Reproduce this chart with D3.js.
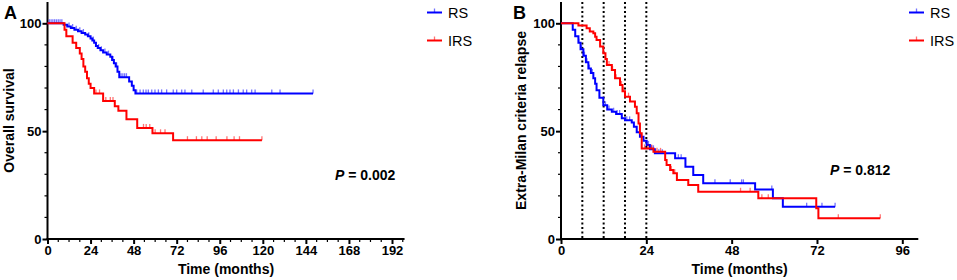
<!DOCTYPE html>
<html>
<head>
<meta charset="utf-8">
<script src="https://cdn.jsdelivr.net/npm/d3@7"></script>
<style>
  body { margin: 0; background: #fff; }
  svg { display: block; }
</style>
</head>
<body>
<div id="chart-area"></div>
<script>
// ---- data (months, % without event) ----
const seriesNames = ["RS", "IRS"];
const seriesColors = ["#0000ff", "#ff0000"];

// Panel A: overall survival
const stepsA_RS = [[0,100],[9,99.3],[11,98.5],[13,97.8],[15,97],[17,96.3],[19,95.5],[21,94.8],[22.5,94],[24,93],[25,92],[26,91],[27,89.5],[28,88.5],[29.5,87.5],[31,86.5],[33,85.5],[35,84.5],[36,83],[37,81.5],[38,80],[39,77.5],[40,75],[45.5,73],[47,71],[48,69],[49,67.5]];
const endA_RS = 148;
const censorA_RS = [1,2,3,4,5,6,7,8,12,14,16,18,20,23,25.5,28.5,30,32,34,36.5,38.5,41,42,43,44,49.7,51.6,53.4,54.9,56.2,58.1,59.9,61.8,63.6,66.4,70.1,72,74.8,76.6,80.4,86.8,92.4,95.2,98,99.9,101.7,103.6,106.4,109.1,111,113.8,115.7,125,129.6,148];

const stepsA_IRS = [[0,100],[9.5,97],[10.5,94],[14,91],[16,88.5],[18,86],[19,83.5],[20,80],[21,77.5],[22,74.5],[23,72],[24,70],[26,67.5],[31,64],[37.5,61.5],[39.5,59.5],[44,55.5],[50,51.5],[58.5,49],[70,45.8]];
const endA_IRS = 119.5;
const censorA_IRS = [27,29,32.5,35,36.5,53.5,55,57,60,63,65.5,78,83,86,89,94,100,104,107,119.5];

// Panel B: extra-Milan criteria relapse
const stepsB_RS = [[0,100],[3.3,97],[4,94],[4.9,91],[5.5,88],[6.3,85],[7,82],[7.7,79],[8.4,77],[9.1,74.5],[9.6,72],[10,69],[10.8,65.5],[11.9,62],[13,60],[14.3,59],[15.5,58],[17.1,56],[18,55],[19.9,54],[20.5,52],[21.3,49.5],[22.2,47.4],[23.2,45.5],[24.1,43.6],[25,41.6],[26.4,39.7],[32.1,37.4],[35,33.5],[37.2,29.7],[40,25.8],[54.6,23],[59.6,18.9],[62.4,15]];
const endB_RS = 77.1;
const censorB_RS = [5,5.8,6.6,7.3,8,8.8,12.5,13.5,14.8,15.8,16.5,18.5,19.3,24.6,25.5,26,27.5,28.5,33,33.8,43.3,47.6,50.8,51.3,59.3,69.1,73.4,77.1];

const stepsB_IRS = [[0,100],[4.9,99],[7.2,97.7],[8.1,96.2],[9.1,95.4],[9.6,93.8],[10,92.3],[11,89.2],[11.9,86.1],[12.5,83.5],[12.9,80.7],[14.3,78.4],[15.2,74.5],[16.6,71.4],[17.3,68.5],[18,66],[19.4,63.7],[20.8,61.3],[21.3,58.3],[21.8,53.6],[22.2,49],[22.7,42],[26,40.4],[29.3,36.6],[29.7,34.3],[30.7,32],[31.6,30.5],[32.6,27.4],[35.8,25],[38.6,21.9],[55.5,18.9],[71.8,14.2],[72.4,9.6]];
const endB_IRS = 89.8;
const censorB_IRS = [13.5,14.5,15.5,17,17.6,19,23.5,24.5,25.5,27,28,31,32,50.5,53.2,56.5,58.3,78,89.8];

const ticksA = [0,24,48,72,96,120,144,168,192];
const ticksB = [0,24,48,72,96];
const ticksY = [0,50,100];
const cutoffsB = [6,12,18,24];

// ---- layout ----
const width = 957;
const height = 280;
const font = 'Arial, "Liberation Sans", sans-serif';

const svg = d3.select('#chart-area')
    .append('svg')
    .attr('width', width)
    .attr('height', height);

const y = d3.scaleLinear().domain([0, 100]).range([239, 23.3]);

function valueAt(steps, t) {
    let v = steps[0][1];
    steps.forEach(s => { if (s[0] <= t) v = s[1]; });
    return v;
}

function drawPanel(p) {
    const x = d3.scaleLinear().domain([0, p.xMax]).range(p.xRange);
    const g = svg.append('g');
    const x0 = x(0);

    // dotted cut-off lines
    g.selectAll('.cut')
        .data(p.cutoffs || [])
        .enter()
        .append('line')
        .attr('x1', d => x(d)).attr('x2', d => x(d))
        .attr('y1', 2).attr('y2', y(0))
        .attr('stroke', '#000')
        .attr('stroke-width', 2)
        .attr('stroke-dasharray', '2,2.5');

    // minor ticks
    if (p.minorX) {
        g.selectAll('.mx')
            .data(d3.range(0, p.axisEnd + 0.01, p.minorX).filter(d => d % 24 !== 0))
            .enter()
            .append('line')
            .attr('x1', d => x(d)).attr('x2', d => x(d))
            .attr('y1', y(0)).attr('y2', y(0) + 3)
            .attr('stroke', '#000').attr('stroke-width', 1.2);
    }
    g.selectAll('.my')
        .data(d3.range(10, 110, 10).filter(d => d % 50 !== 0))
        .enter()
        .append('line')
        .attr('x1', x0 - 3).attr('x2', x0)
        .attr('y1', d => y(d)).attr('y2', d => y(d))
        .attr('stroke', '#000').attr('stroke-width', 1.2);

    // axes
    const xAxis = d3.axisBottom(x).tickValues(p.xTicks).tickSize(5).tickPadding(2);
    const gx = g.append('g')
        .attr('transform', `translate(0, ${y(0)})`)
        .call(xAxis);
    gx.select('.domain').remove();
    gx.append('line')
        .attr('x1', x0 - 1).attr('x2', x(p.axisEnd))
        .attr('stroke', '#000').attr('stroke-width', 2);

    const yAxis = d3.axisLeft(y).tickValues(ticksY).tickSize(5).tickPadding(1);
    const gy = g.append('g')
        .attr('transform', `translate(${x0}, 0)`)
        .call(yAxis);
    gy.select('.domain').remove();
    gy.append('line')
        .attr('y1', y(0) + 1).attr('y2', 2)
        .attr('stroke', '#000').attr('stroke-width', 2);

    g.selectAll('.tick line').attr('stroke-width', 2);
    g.selectAll('.tick text')
        .attr('font-family', font)
        .attr('font-size', '13px')
        .attr('font-weight', 'bold')
        .attr('fill', '#000');

    // curves
    const line = d3.line()
        .x(d => x(d[0]))
        .y(d => y(d[1]))
        .curve(d3.curveStepAfter);

    p.series.forEach((s, i) => {
        const pts = s.steps.concat([[s.end, s.steps[s.steps.length - 1][1]]]);
        g.selectAll('.c' + i)
            .data(s.censor)
            .enter()
            .append('line')
            .attr('x1', d => x(d)).attr('x2', d => x(d))
            .attr('y1', d => y(valueAt(s.steps, d)) - 4)
            .attr('y2', d => y(valueAt(s.steps, d)))
            .attr('stroke', seriesColors[i])
            .attr('stroke-opacity', 0.55)
            .attr('stroke-width', 1.3);
        g.append('path')
            .datum(pts)
            .attr('class', 'km')
            .attr('fill', 'none')
            .attr('stroke', seriesColors[i])
            .attr('stroke-width', 2)
            .attr('d', line);
    });

    // labels
    g.append('text')
        .attr('x', p.letterX).attr('y', 19)
        .attr('font-family', font).attr('font-size', '18px').attr('font-weight', 'bold')
        .text(p.letter);

    g.append('text')
        .attr('transform', `translate(${p.yLabelX}, ${(y(0) + 2) / 2}) rotate(-90)`)
        .attr('text-anchor', 'middle')
        .attr('font-family', font).attr('font-size', '14px').attr('font-weight', 'bold')
        .text(p.yLabel);

    g.append('text')
        .attr('x', (x0 + x(p.axisEnd)) / 2).attr('y', 274)
        .attr('text-anchor', 'middle')
        .attr('font-family', font).attr('font-size', '14px').attr('font-weight', 'bold')
        .text('Time (months)');

    const pt = g.append('text')
        .attr('x', p.pX).attr('y', p.pY)
        .attr('font-family', font).attr('font-size', '14px').attr('font-weight', 'bold');
    pt.append('tspan').attr('font-style', 'italic').text('P');
    pt.append('tspan').text(' = ' + p.pValue);

    // legend
    seriesNames.forEach((name, i) => {
        const ly = 12.5 + i * 28;
        g.append('line')
            .attr('x1', p.legendX).attr('x2', p.legendX + 15)
            .attr('y1', ly).attr('y2', ly)
            .attr('stroke', seriesColors[i]).attr('stroke-width', 2);
        g.append('line')
            .attr('x1', p.legendX + 7.5).attr('x2', p.legendX + 7.5)
            .attr('y1', ly - 4).attr('y2', ly)
            .attr('stroke', seriesColors[i]).attr('stroke-opacity', 0.55).attr('stroke-width', 1.3);
        g.append('text')
            .attr('x', p.legendX + 21).attr('y', ly + 5)
            .attr('font-family', font).attr('font-size', '14.5px')
            .text(name);
    });
}

drawPanel({
    xMax: 192, xRange: [47.5, 392], axisEnd: 199, xTicks: ticksA, minorX: 6,
    series: [
        { steps: stepsA_RS, end: endA_RS, censor: censorA_RS },
        { steps: stepsA_IRS, end: endA_IRS, censor: censorA_IRS }
    ],
    letter: 'A', letterX: 4, yLabel: 'Overall survival', yLabelX: 14,
    pValue: '0.002', pX: 335, pY: 180, legendX: 427
});

drawPanel({
    xMax: 96, xRange: [561, 902.3], axisEnd: 100.5, xTicks: ticksB, minorX: 0,
    cutoffs: cutoffsB,
    series: [
        { steps: stepsB_RS, end: endB_RS, censor: censorB_RS },
        { steps: stepsB_IRS, end: endB_IRS, censor: censorB_IRS }
    ],
    letter: 'B', letterX: 513, yLabel: 'Extra-Milan criteria relapse', yLabelX: 526,
    pValue: '0.812', pX: 830, pY: 175, legendX: 909
});
</script>
</body>
</html>
